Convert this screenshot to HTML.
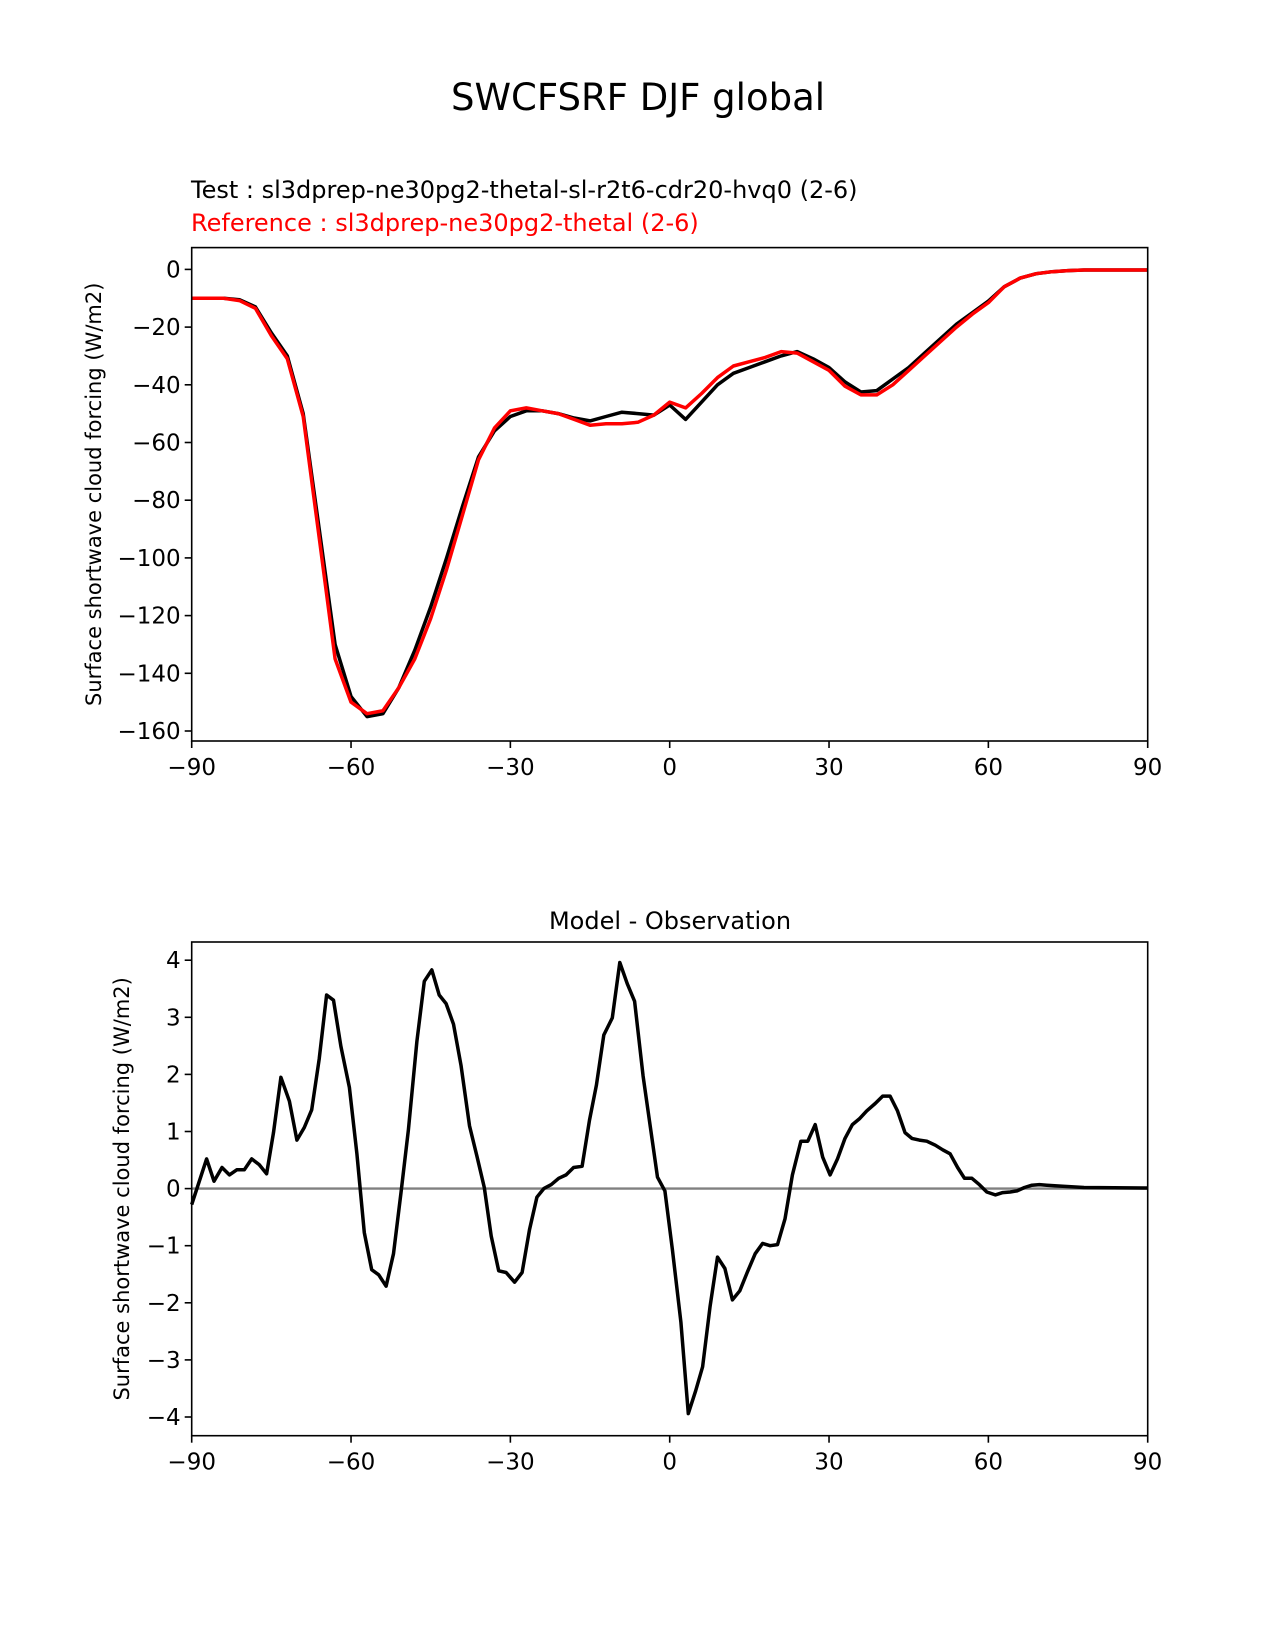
<!DOCTYPE html>
<html><head><meta charset="utf-8"><style>
html,body{margin:0;padding:0;background:#fff;}
svg{display:block;font-family:"DejaVu Sans","Liberation Sans",sans-serif;}
</style></head><body>
<svg id="fig" width="1275" height="1650" viewBox="0 0 1275 1650" xmlns="http://www.w3.org/2000/svg">
<rect width="1275" height="1650" fill="#fff"/>
<text x="638" y="110" font-size="37" text-anchor="middle">SWCFSRF DJF global</text>
<text x="191" y="198" font-size="24">Test : sl3dprep-ne30pg2-thetal-sl-r2t6-cdr20-hvq0 (2-6)</text>
<text x="191" y="231" font-size="24" fill="#ff0000">Reference : sl3dprep-ne30pg2-thetal (2-6)</text>
<text x="670" y="929" font-size="24" text-anchor="middle">Model - Observation</text>
<g id="top"></g>
<g id="bot"></g>
</svg>
<script>
const topLats = [-90,-87,-84,-81,-78,-75,-72,-69,-66,-63,-60,-57,-54,-51,-48,-45,-42,-39,-36,-33,-30,-27,-24,-21,-18,-15,-12,-9,-6,-3,0,3,6,9,12,15,18,21,24,27,30,33,36,39,42,45,48,51,54,57,60,63,66,69,72,75,78,81,84,87,90];
const testValues = [-10,-10,-10,-10.5,-13,-22,-30,-50,-90,-130,-148,-155,-154,-145,-132,-117,-100,-82,-65,-56,-51,-49,-49,-50,-51.5,-52.5,-51,-49.5,-50,-50.5,-47,-52,-46,-40,-36,-34,-32,-30,-28.5,-31,-34,-39,-42.5,-42,-38,-34,-29,-24,-19,-15,-11,-6,-3,-1.5,-0.8,-0.4,-0.2,-0.2,-0.2,-0.2,-0.2];
const refValues = [-10,-10,-10,-10.8,-13.5,-23,-31,-51,-93,-135,-150,-154,-153,-145,-135,-121,-104,-85,-66,-55,-49,-48,-49,-50,-52,-54,-53.5,-53.5,-53,-50.5,-46,-48,-43,-37.5,-33.5,-32,-30.5,-28.5,-29,-32,-35,-40.5,-43.5,-43.5,-40,-35,-30,-25,-20,-15.5,-11.5,-6,-3,-1.5,-0.8,-0.4,-0.2,-0.2,-0.2,-0.2,-0.2];
const diffLats = [-90,-87.2,-85.8,-84.3,-82.9,-81.5,-80.1,-78.7,-77.3,-75.9,-74.6,-73.2,-71.6,-70.2,-68.8,-67.4,-66,-64.6,-63.3,-61.9,-60.3,-58.9,-57.5,-56.1,-54.8,-53.4,-52,-50.6,-49.2,-47.6,-46.2,-44.8,-43.4,-42.1,-40.7,-39.3,-37.7,-36.3,-34.9,-33.6,-32.2,-30.8,-29.2,-27.8,-26.4,-25,-23.7,-22.3,-20.9,-19.5,-18.1,-16.5,-15.1,-13.8,-12.4,-10.8,-9.4,-8,-6.6,-5,-3.7,-2.3,-0.9,0.5,2.1,3.5,4.9,6.2,7.6,9,10.4,11.8,13.2,14.6,16.1,17.5,18.9,20.3,21.7,23.1,24.7,26,27.4,28.8,30.2,31.6,33,34.4,35.7,37.1,38.7,40.1,41.5,42.9,44.3,45.6,47,48.4,50,51.4,52.8,54.2,55.5,56.9,58.3,59.7,61.3,62.7,64.1,65.4,66.8,68.2,69.6,71,74,78,90];
const diffValues = [-0.28,0.52,0.13,0.37,0.24,0.33,0.33,0.52,0.42,0.26,0.98,1.95,1.53,0.85,1.07,1.38,2.27,3.39,3.3,2.49,1.77,0.61,-0.77,-1.42,-1.51,-1.71,-1.14,-0.07,1.03,2.58,3.63,3.83,3.39,3.24,2.88,2.16,1.1,0.57,0.02,-0.83,-1.44,-1.47,-1.64,-1.47,-0.72,-0.15,0,0.07,0.18,0.24,0.37,0.39,1.2,1.81,2.69,2.99,3.96,3.59,3.28,1.97,1.12,0.2,-0.04,-1.07,-2.34,-3.94,-3.54,-3.12,-2.06,-1.2,-1.4,-1.95,-1.79,-1.47,-1.14,-0.96,-1.0,-0.98,-0.53,0.24,0.83,0.83,1.12,0.55,0.24,0.52,0.88,1.12,1.22,1.36,1.49,1.62,1.62,1.36,0.98,0.88,0.85,0.83,0.76,0.68,0.61,0.37,0.18,0.18,0.07,-0.06,-0.11,-0.07,-0.06,-0.04,0.02,0.06,0.07,0.06,0.04,0.02,0.01];
const xTicks = [-90,-60,-30,0,30,60,90];
const topYTicks = [0,-20,-40,-60,-80,-100,-120,-140,-160];
const botYTicks = [4,3,2,1,0,-1,-2,-3,-4];

const NS = 'http://www.w3.org/2000/svg';
function mk(parent, tag, attrs, text){
  const e = document.createElementNS(NS, tag);
  for (const k in attrs) e.setAttribute(k, attrs[k]);
  if (text !== undefined) e.textContent = text;
  parent.appendChild(e);
  return e;
}
const L = 191.7, R = 1147.7;
function xs(v){ return L + (v + 90) / 180 * (R - L); }

function panel(g, top, bottom, yScale, yTicks, ylabel, ylx, name){
  const cy = (top + bottom) / 2;
  const lab = mk(g, 'text', {x: ylx, y: cy, 'font-size': 21, 'text-anchor': 'middle', transform: 'rotate(-90 ' + ylx + ' ' + cy + ')'}, ylabel);
  
  
  xTicks.forEach(t => {
    const x = xs(t);
    const tk = mk(g, 'line', {x1: x, x2: x, y1: bottom, y2: bottom + 7, stroke: '#000', 'stroke-width': 1.6});
    
    
    const tl = mk(g, 'text', {x: x, y: bottom + 34, 'font-size': 23, 'text-anchor': 'middle'}, (t < 0 ? '\u2212' + (-t) : '' + t));
    
    
  });
  yTicks.forEach(t => {
    const y = yScale(t);
    const tk = mk(g, 'line', {x1: L - 7, x2: L, y1: y, y2: y, stroke: '#000', 'stroke-width': 1.6});
    
    
    const tl = mk(g, 'text', {x: L - 11, y: y + 8, 'font-size': 23, 'text-anchor': 'end'}, (t < 0 ? '\u2212' + (-t) : '' + t));
    
    
  });
}
function line(g, lats, vals, yScale, color, w, name){
  const d = lats.map((la, i) => (i ? 'L' : 'M') + xs(la).toFixed(1) + ',' + yScale(vals[i]).toFixed(1)).join('');
  const p = mk(g, 'path', {d: d, fill: 'none', stroke: color, 'stroke-width': w, 'stroke-linejoin': 'round'});
  
  
}
function frame(g, top, bottom, name){
  const r = mk(g, 'rect', {x: L, y: top, width: R - L, height: bottom - top, fill: 'none', stroke: '#000', 'stroke-width': 1.6});
  
  
}

const gt = document.getElementById('top');
const tT = 247.6, tB = 741;
const ysTop = v => 269.4 + (-v) / 20 * 57.7;
panel(gt, tT, tB, ysTop, topYTicks, 'Surface shortwave cloud forcing (W/m2)', 101, 'top');
line(gt, topLats, testValues, ysTop, '#000', 3.5, 'test-line');
line(gt, topLats, refValues, ysTop, '#ff0000', 3.5, 'reference-line');
frame(gt, tT, tB, 'top');

const gb = document.getElementById('bot');
const bT = 942, bB = 1435.7;
const ysBot = v => 1188.6 - v * 57.1;
panel(gb, bT, bB, ysBot, botYTicks, 'Surface shortwave cloud forcing (W/m2)', 129, 'bottom');
const z = mk(gb, 'line', {x1: L, x2: R, y1: ysBot(0), y2: ysBot(0), stroke: '#808080', 'stroke-width': 2.4});


line(gb, diffLats, diffValues, ysBot, '#000', 3.5, 'difference-line');
frame(gb, bT, bB, 'bottom');
</script>
</body></html>
